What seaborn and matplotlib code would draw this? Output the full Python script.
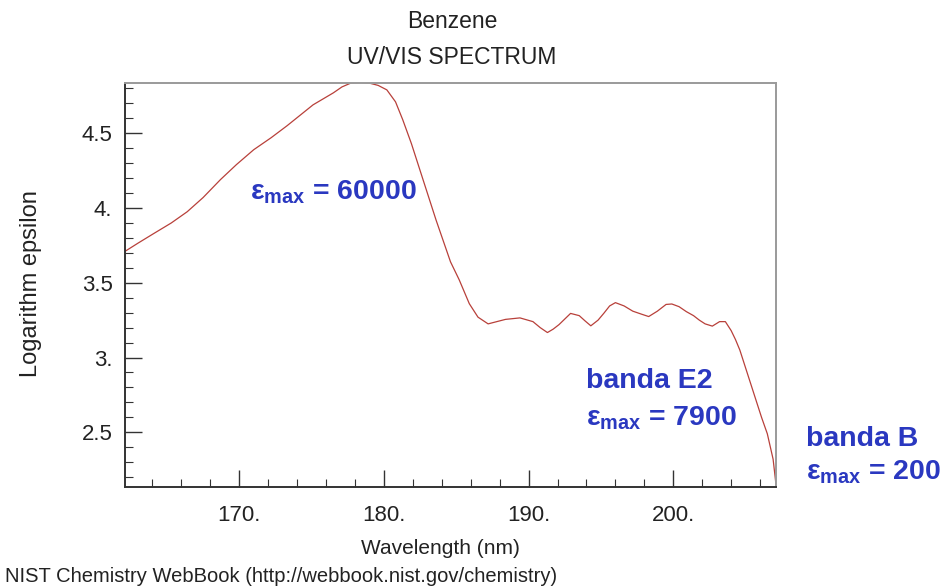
import matplotlib
matplotlib.use("Agg")
import matplotlib.pyplot as plt
from matplotlib.ticker import MultipleLocator, FuncFormatter
import seaborn as sns
import pandas as pd

# Benzene UV/VIS absorption spectrum (NIST WebBook), log10(epsilon) vs wavelength
wavelength_nm = [
    162.1, 163.0, 164.1, 165.3, 166.4, 167.5, 168.7, 169.8, 171.0, 172.2,
    173.3, 174.2, 175.1, 175.8, 176.5, 177.1, 177.7, 178.4, 179.0, 179.6,
    180.2, 180.8, 181.3, 181.9, 182.5, 183.0, 183.6, 184.1, 184.6, 185.2,
    185.9, 186.5, 187.2, 187.8, 188.4, 189.4, 190.3, 190.8, 191.3, 191.7,
    192.1, 192.9, 193.5, 193.9, 194.3, 194.8, 195.2, 195.6, 196.0, 196.6,
    197.2, 197.8, 198.3, 198.9, 199.5, 199.9, 200.4, 200.9, 201.4, 201.8,
    202.2, 202.7, 203.2, 203.6, 204.0, 204.3, 204.6, 205.1, 205.7, 206.1,
    206.5, 206.9, 207.1,
]
log_epsilon = [
    3.71, 3.765, 3.83, 3.90, 3.975, 4.07, 4.19, 4.29, 4.39, 4.47,
    4.55, 4.62, 4.69, 4.73, 4.77, 4.81, 4.835, 4.84, 4.835, 4.82,
    4.79, 4.71, 4.59, 4.43, 4.25, 4.10, 3.92, 3.78, 3.64, 3.52,
    3.36, 3.27, 3.225, 3.24, 3.255, 3.265, 3.24, 3.20, 3.167, 3.19,
    3.22, 3.295, 3.28, 3.245, 3.212, 3.25, 3.296, 3.345, 3.367, 3.345,
    3.31, 3.29, 3.274, 3.31, 3.355, 3.358, 3.34, 3.307, 3.28, 3.25,
    3.225, 3.21, 3.24, 3.24, 3.18, 3.12, 3.05, 2.90, 2.72, 2.60,
    2.49, 2.32, 2.15,
]

title_lines = ["Benzene", "UV/VIS SPECTRUM"]
x_label = "Wavelength (nm)"
y_label = "Logarithm epsilon"
source_note = "NIST Chemistry WebBook (http://webbook.nist.gov/chemistry)"

band_labels = ["", "banda E2", "banda B"]
band_eps_max = [60000, 7900, 200]

df = pd.DataFrame({"wavelength": wavelength_nm, "logeps": log_epsilon})

sns.set_theme(style="white")
plt.rcParams["font.family"] = ["Liberation Sans", "DejaVu Sans"]
plt.rcParams["mathtext.fontset"] = "custom"
plt.rcParams["mathtext.rm"] = "Liberation Sans:bold"
plt.rcParams["mathtext.bf"] = "Liberation Sans:bold"
plt.rcParams["mathtext.it"] = "Liberation Sans:bold"

fig = plt.figure(figsize=(9.41, 5.87), dpi=100)
ax = fig.add_axes([125 / 941, 1 - 486.7 / 587, (776 - 125) / 941, (486.7 - 82.7) / 587])

sns.lineplot(data=df, x="wavelength", y="logeps", ax=ax, color="#b8403a",
             linewidth=0.9, estimator=None, sort=False)

ax.set_xlim(162.1, 207.1)
ax.set_ylim(2.136, 4.838)

ax.xaxis.set_major_locator(MultipleLocator(10))
ax.xaxis.set_minor_locator(MultipleLocator(2))
ax.yaxis.set_major_locator(MultipleLocator(0.5))
ax.yaxis.set_minor_locator(MultipleLocator(0.1))


def _fmt(v, _pos):
    if abs(v - round(v)) < 1e-6:
        return f"{int(round(v))}."
    return f"{v:g}"


ax.xaxis.set_major_formatter(FuncFormatter(_fmt))
ax.yaxis.set_major_formatter(FuncFormatter(_fmt))

ax.tick_params(axis="both", which="major", direction="in", length=12, width=1.0,
               color="#333333", labelsize=16, labelcolor="#222222",
               bottom=True, left=True, top=False, right=False)
ax.tick_params(axis="x", which="major", pad=13)
ax.tick_params(axis="y", which="major", pad=9)
ax.tick_params(axis="both", which="minor", direction="in", length=6, width=0.8,
               color="#333333", bottom=True, left=True, top=False, right=False)

for side in ("left", "bottom"):
    ax.spines[side].set_color("#333333")
    ax.spines[side].set_linewidth(1.4)
for side in ("top", "right"):
    ax.spines[side].set_color("#9a9a9a")
    ax.spines[side].set_linewidth(1.4)

ax.set_xlabel("")
ax.set_ylabel("")
fig.text(440 / 941, 1 - 548 / 587, x_label, ha="center", va="center",
         fontsize=15, color="#222222")
fig.text(31 / 941, 1 - 284 / 587, y_label, ha="center", va="center",
         rotation=90, fontsize=17, color="#222222")
fig.text(5 / 941, 1 - 577 / 587, source_note, ha="left", va="center",
         fontsize=14.5, color="#222222")

fig.text(452 / 941, 1 - 22 / 587, title_lines[0], ha="center", va="center",
         fontsize=16.5, color="#222222")
fig.text(452 / 941, 1 - 57 / 587, title_lines[1], ha="center", va="center",
         fontsize=16.5, color="#222222")

# band annotations
blue = "#2a38c0"
eps_fmt = "\u03b5$_{\\mathrm{max}}$ = {}"
ann_style = dict(fontsize=20.5, fontweight="bold", color=blue, ha="left",
                 va="baseline")

fig.text(250 / 941, 1 - 200 / 587, eps_fmt.replace("{}", str(band_eps_max[0])),
         **ann_style)
fig.text(586 / 941, 1 - 388 / 587, band_labels[1], **ann_style)
fig.text(586 / 941, 1 - 425 / 587, eps_fmt.replace("{}", str(band_eps_max[1])),
         **ann_style)
fig.text(806 / 941, 1 - 446 / 587, band_labels[2], **ann_style)
fig.text(806 / 941, 1 - 479 / 587, eps_fmt.replace("{}", str(band_eps_max[2])),
         **ann_style)

fig.savefig("out.png", dpi=100, facecolor="white")
